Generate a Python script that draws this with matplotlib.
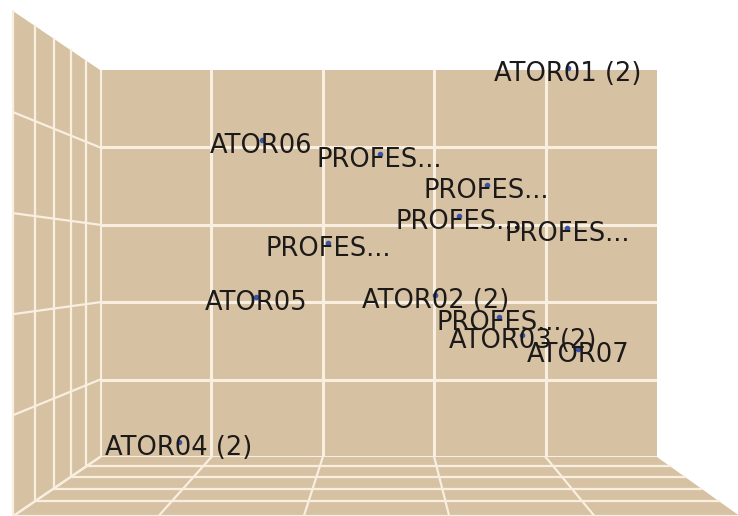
import matplotlib
matplotlib.use("Agg")
import matplotlib.pyplot as plt
from matplotlib.patches import Polygon

labels = ["ATOR01 (2)", "ATOR06", "PROFES...", "PROFES...", "PROFES...", "PROFES...",
          "PROFES...", "ATOR05", "ATOR02 (2)", "PROFES...", "ATOR03 (2)", "ATOR07", "ATOR04 (2)"]
dim1 = [4.20, 1.45, 2.51, 3.47, 3.22, 4.19, 2.05, 1.40, 3.01, 3.58, 3.79, 4.29, 0.71]
dim2 = [5.03, 4.10, 3.92, 3.52, 3.11, 2.96, 2.77, 2.07, 2.09, 1.81, 1.57, 1.40, 0.20]
grid_ticks = [0, 1, 2, 3, 4, 5]

W, H = 738, 516
TAN = "#d7c1a3"
LINE = "#f8efe0"

# back wall placement in pixels
X0, X1, Y0, Y1 = 100, 657, 70, 457
VX, VY = 385, 263
NDEPTH = 5

def proj(px, py, d):
    s = 1.0 / (1.0 - 0.0466 * d)
    return VX + s * (px - VX), VY + s * (py - VY)

fig = plt.figure(figsize=(W / 100, H / 100), dpi=100)
bg = fig.add_axes([0, 0, 1, 1])
bg.set_xlim(0, W)
bg.set_ylim(H, 0)
bg.axis("off")

# left wall
lw_poly = [(X0, Y0), (X0, Y1), proj(X0, Y1, NDEPTH), proj(X0, Y0, NDEPTH)]
bg.add_patch(Polygon(lw_poly, closed=True, facecolor=TAN, edgecolor="none"))
# floor
fl_poly = [(X0, Y1), (X1, Y1), proj(X1, Y1, NDEPTH), proj(X0, Y1, NDEPTH)]
bg.add_patch(Polygon(fl_poly, closed=True, facecolor=TAN, edgecolor="none"))

gx = [X0 + (X1 - X0) * t / 5 for t in grid_ticks]
gy = [Y1 - (Y1 - Y0) * t / 5 for t in grid_ticks]

# depth lines (L-shaped: left wall vertical + floor horizontal)
for d in range(1, NDEPTH + 1):
    a = proj(X0, Y0, d)
    b = proj(X0, Y1, d)
    c = proj(X1, Y1, d)
    bg.plot([a[0], b[0], c[0]], [a[1], b[1], c[1]], color=LINE, lw=1.6,
            solid_joinstyle="miter")
# left wall horizontal lines
for y in gy[:-1]:
    a = proj(X0, y, NDEPTH)
    bg.plot([X0, a[0]], [y, a[1]], color=LINE, lw=1.6)
# floor receding lines
for x in gx[:-1]:
    a = proj(x, Y1, NDEPTH)
    bg.plot([x, a[0]], [Y1, a[1]], color=LINE, lw=1.6)

# back wall = data axes
ax = fig.add_axes([X0 / W, (H - Y1) / H, (X1 - X0) / W, (Y1 - Y0) / H])
ax.set_facecolor(TAN)
ax.set_xlim(0, 5)
ax.set_ylim(0, 5)
ax.set_xticks(grid_ticks[:-1])
ax.set_yticks(grid_ticks[:-1])
ax.tick_params(length=0, labelbottom=False, labelleft=False)
ax.grid(True, color=LINE, lw=2.2)
for sp in ax.spines.values():
    sp.set_visible(False)

ax.scatter(dim1, dim2, s=9, color="#3a55a8", zorder=3, clip_on=False)
for lab, x, y in zip(labels, dim1, dim2):
    ax.annotate(lab, (x, y), xytext=(0, -6), textcoords="offset pixels",
                ha="center", va="center", fontsize=18.5, color="#1c1a18",
                family="DejaVu Sans", zorder=4, annotation_clip=False)

fig.savefig("out.png", dpi=100, facecolor="white")
